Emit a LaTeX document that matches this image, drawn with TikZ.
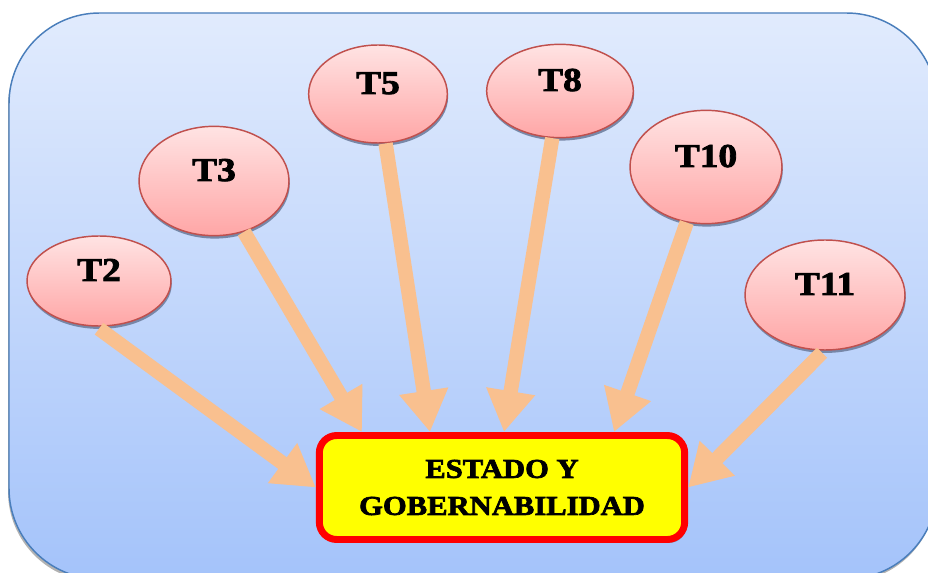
\documentclass[tikz,border=0pt]{standalone}
\usepackage{fontspec}
\newfontfamily\stfont{Liberation Serif}[FakeStretch=1.12,FakeBold=2.5]
\usetikzlibrary{arrows.meta,shapes.geometric,shadows,calc}
\definecolor{bgtop}{HTML}{E1EBFD}
\definecolor{bgbot}{HTML}{A4C3FA}
\definecolor{bgline}{HTML}{4A7EBB}
\definecolor{eltop}{HTML}{FFE3E3}
\definecolor{elbot}{HTML}{FFA6A6}
\definecolor{elline}{HTML}{C0504D}
\definecolor{arrc}{HTML}{F9C08F}
\definecolor{shc}{HTML}{6F7F9F}
\definecolor{boxyel}{HTML}{FFFF00}
\definecolor{boxred}{HTML}{FF0000}
\begin{document}
\begin{tikzpicture}[x=0.75pt,y=-0.75pt,
  bgbox/.style={draw=bgline,line width=1.1pt,top color=bgtop,bottom color=bgbot,rounded corners=68pt},
  tnode/.style={ellipse,draw=elline,line width=1.1pt,top color=eltop,bottom color=elbot,inner sep=0pt,
    drop shadow={shadow xshift=0.6pt,shadow yshift=-2.2pt,fill=shc,opacity=0.9},
    font=\stfont\bfseries\fontsize{25}{28}\selectfont,text height=17pt,text depth=17pt},
  mainbox/.style={draw=boxred,fill=boxyel,line width=5.2pt,rounded corners=13pt,
    minimum width=274pt,minimum height=78pt,inner sep=0pt,align=center,
    drop shadow={shadow xshift=1.5pt,shadow yshift=-2.5pt,fill=shc,opacity=0.8},
    font=\stfont\bfseries\fontsize{20.5}{27.75}\selectfont},
  arr/.style={draw=arrc,line width=10.8pt,-{Triangle[width=35pt,length=31pt]}}]
\useasboundingbox (0,0) rectangle (928,573);
\begin{scope}
\clip (0,0) rectangle (928,573);
\fill[gray!60,rounded corners=68pt] (8,16) rectangle (936,582);
\path[bgbox] (9,13) rectangle (937,579);
\end{scope}
\node[tnode,minimum width=108pt,minimum height=67.5pt] (t2) at (99,281) {T2};
\node[tnode,minimum width=112.5pt,minimum height=82pt] (t3) at (214,181) {T3};
\node[tnode,minimum width=104pt,minimum height=73.5pt] (t5) at (378,94) {T5};
\node[tnode,minimum width=110pt,minimum height=70pt] (t8) at (560,91) {T8};
\node[tnode,minimum width=114pt,minimum height=85pt] (t10) at (706,167) {T10};
\node[tnode,minimum width=120pt,minimum height=82.5pt] (t11) at (825,295) {T11};
\node[mainbox] (box) at (502,487.5) {ESTADO Y\\GOBERNABILIDAD};
\coordinate (b3) at ($(box.north)+(-140,0)$);
\coordinate (b5) at ($(box.north)+(-72,0)$);
\coordinate (b8) at ($(box.north)+(2,0)$);
\coordinate (b10) at ($(box.north)+(112,0)$);
\draw[arr] ($(t2.south)+(0,2)$) -- (box.west);
\draw[arr] (t3) -- (b3);
\draw[arr] (t5) -- (b5);
\draw[arr] (t8) -- (b8);
\draw[arr] (t10) -- (b10);
\draw[arr] ($(t11.south)+(-3,2)$) -- (box.east);
\end{tikzpicture}
\end{document}
